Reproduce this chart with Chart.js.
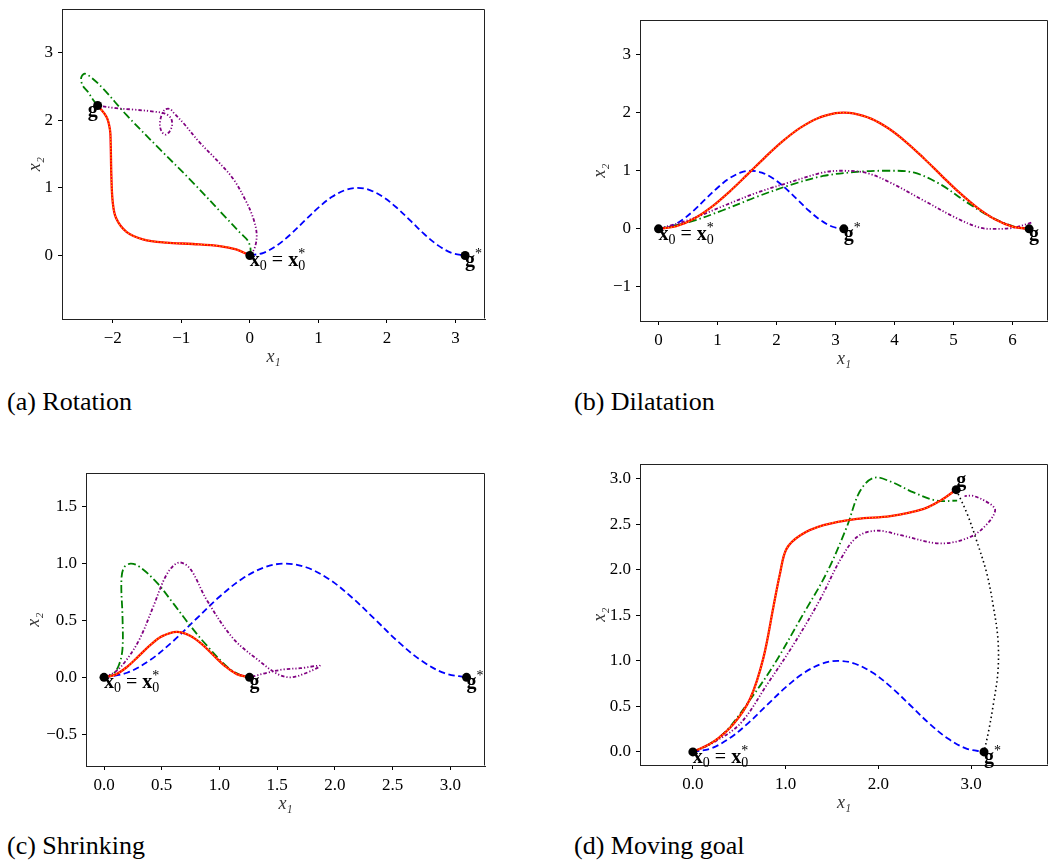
<!DOCTYPE html>
<html><head><meta charset="utf-8">
<script src="https://cdn.jsdelivr.net/npm/chart.js@4.4.1/dist/chart.umd.min.js"></script>
<style>
html,body{margin:0;padding:0;background:#fff;width:1048px;height:865px;overflow:hidden;position:relative;}
canvas{position:absolute;}
.cap{position:absolute;font-family:"Liberation Serif","Times New Roman",serif;font-size:26px;line-height:26px;color:#000;white-space:nowrap;}
</style></head><body>
<canvas id="ca"></canvas><canvas id="cb"></canvas><canvas id="cc"></canvas><canvas id="cd"></canvas>
<div class="cap" style="left:7px;top:389px">(a) Rotation</div>
<div class="cap" style="left:574px;top:389px">(b) Dilatation</div>
<div class="cap" style="left:7px;top:833px">(c) Shrinking</div>
<div class="cap" style="left:574px;top:833px">(d) Moving goal</div>
<script>
// ---------- data ----------
const demoX = [0, 0.2, 0.4, 0.6, 0.8, 1.0, 1.2, 1.4, 1.57, 1.75, 1.95, 2.15, 2.35, 2.55, 2.75, 2.95, 3.14];
const demoY = [0, 0.04, 0.152, 0.319, 0.515, 0.708, 0.869, 0.971, 1.0, 0.968, 0.863, 0.70, 0.507, 0.311, 0.146, 0.036, 0];
const markLabels = ['x0', 'g', 'g*'];

// (a) Rotation
const rotRedX = [0, -0.2, -0.44, -0.83, -1.22, -1.56, -1.80, -1.95, -2.00, -2.02, -2.03, -2.04, -2.09, -2.22];
const rotRedY = [0, 0.09, 0.14, 0.17, 0.19, 0.24, 0.35, 0.55, 0.79, 1.18, 1.66, 1.86, 2.05, 2.22];
const rotGreenX = [0, 0.01, -0.03, -0.145, -0.34, -0.83, -1.31, -1.80, -2.14, -2.32, -2.41, -2.46, -2.44, -2.36, -2.29, -2.22];
const rotGreenY = [0, 0.10, 0.22, 0.34, 0.55, 1.08, 1.57, 2.08, 2.47, 2.64, 2.69, 2.63, 2.52, 2.42, 2.31, 2.22];
const rotPurpleX = [0, 0.07, 0.10, 0.05, -0.05, -0.24, -0.49, -0.73, -0.97, -1.10, -1.17, -1.25, -1.31, -1.29, -1.22, -1.14, -1.15, -1.24, -1.40, -1.70, -1.95, -2.22];
const rotPurpleY = [0, 0.11, 0.31, 0.55, 0.79, 1.13, 1.42, 1.67, 1.96, 2.10, 2.17, 2.15, 1.98, 1.84, 1.79, 1.90, 2.03, 2.10, 2.13, 2.16, 2.18, 2.22];
const rotMarkX = [0, -2.22, 3.14];
const rotMarkY = [0, 2.22, 0];
const rotXTicks = [-2, -1, 0, 1, 2, 3];
const rotYTicks = [0, 1, 2, 3];

// (b) Dilatation
const dilRedX = [0, 0.3, 0.6, 0.9, 1.2, 1.5, 1.8, 2.1, 2.4, 2.7, 3.0, 3.14, 3.3, 3.6, 3.9, 4.2, 4.5, 4.8, 5.1, 5.4, 5.7, 6.0, 6.28];
const dilRedY = [0, 0.045, 0.175, 0.378, 0.638, 0.929, 1.227, 1.505, 1.737, 1.904, 1.990, 2.0, 1.987, 1.897, 1.726, 1.490, 1.211, 0.913, 0.622, 0.365, 0.165, 0.040, 0];
const dilGreenX = [0, 0.53, 1.09, 1.66, 2.22, 2.79, 3.36, 3.87, 4.32, 4.77, 5.22, 5.62, 6.02, 6.28];
const dilGreenY = [0, 0.12, 0.32, 0.55, 0.75, 0.91, 0.98, 1.0, 0.97, 0.77, 0.46, 0.21, 0.04, 0];
const dilPurpleX = [0, 0.53, 1.09, 1.66, 2.22, 2.79, 3.13, 3.53, 3.92, 4.49, 5.06, 5.45, 5.73, 6.02, 6.33];
const dilPurpleY = [0, 0.16, 0.39, 0.62, 0.80, 0.97, 1.0, 0.96, 0.80, 0.49, 0.18, 0.02, 0.0, 0.02, 0.11];
const dilMarkX = [0, 6.28, 3.14];
const dilMarkY = [0, 0, 0];
const dilXTicks = [0, 1, 2, 3, 4, 5, 6];
const dilYTicks = [-1, 0, 1, 2, 3];

// (c) Shrinking
const shrRedX = [0, 0.1, 0.2, 0.3, 0.4, 0.5, 0.63, 0.75, 0.85, 0.95, 1.05, 1.15, 1.257];
const shrRedY = [0, 0.024, 0.092, 0.186, 0.283, 0.36, 0.4, 0.364, 0.29, 0.192, 0.097, 0.028, 0];
const shrGreenX = [0, 0.08, 0.13, 0.16, 0.16, 0.15, 0.17, 0.23, 0.31, 0.46, 0.60, 0.75, 0.89, 1.07, 1.18, 1.26];
const shrGreenY = [0, 0.03, 0.11, 0.25, 0.54, 0.83, 0.96, 1.0, 0.97, 0.83, 0.65, 0.45, 0.28, 0.09, 0.02, 0];
const shrPurpleX = [0, 0.1, 0.20, 0.31, 0.43, 0.52, 0.59, 0.66, 0.75, 0.89, 1.12, 1.35, 1.50, 1.61, 1.73, 1.87, 1.70, 1.56, 1.41, 1.30, 1.26];
const shrPurpleY = [0, 0.05, 0.16, 0.34, 0.63, 0.86, 0.97, 1.01, 0.95, 0.68, 0.34, 0.14, 0.03, 0.0, 0.03, 0.10, 0.08, 0.07, 0.04, 0.01, 0];
const shrMarkX = [0, 1.26, 3.14];
const shrMarkY = [0, 0, 0];
const shrXTicks = [0, 0.5, 1.0, 1.5, 2.0, 2.5, 3.0];
const shrYTicks = [-0.5, 0, 0.5, 1.0, 1.5];

// (d) Moving goal
const movRedX = [0, 0.22, 0.44, 0.62, 0.76, 0.87, 0.94, 1.01, 1.16, 1.41, 1.77, 2.13, 2.49, 2.67, 2.84];
const movRedY = [0, 0.11, 0.31, 0.59, 1.03, 1.60, 1.96, 2.23, 2.38, 2.49, 2.56, 2.59, 2.67, 2.76, 2.88];
const movGreenX = [0, 0.17, 0.36, 0.58, 0.87, 1.16, 1.44, 1.66, 1.80, 1.95, 2.13, 2.38, 2.63, 2.85];
const movGreenY = [0, 0.08, 0.23, 0.52, 0.95, 1.46, 1.96, 2.47, 2.86, 3.01, 2.97, 2.85, 2.76, 2.76];
const movPurpleX = [0, 0.2, 0.51, 0.80, 1.08, 1.37, 1.59, 1.77, 1.98, 2.24, 2.67, 2.99, 3.17, 3.26, 3.21, 3.03, 2.93];
const movPurpleY = [0, 0.09, 0.31, 0.74, 1.17, 1.67, 2.11, 2.36, 2.43, 2.38, 2.29, 2.36, 2.50, 2.65, 2.72, 2.81, 2.81];
const movGoalPathX = [2.84, 2.96, 3.06, 3.17, 3.24, 3.29, 3.29, 3.24, 3.19, 3.14];
const movGoalPathY = [2.88, 2.61, 2.32, 1.96, 1.60, 1.24, 0.88, 0.52, 0.23, 0];
const movMarkX = [0, 2.84, 3.14];
const movMarkY = [0, 2.88, 0];
const movXTicks = [0, 1, 2, 3];
const movYTicks = [0, 0.5, 1.0, 1.5, 2.0, 2.5, 3.0];

// ---------- drawing ----------
const FF = '"Liberation Serif", "Times New Roman", serif';
const W = 75, H = 60, PT = 10, PR = 10;

function pts(xs, ys) { return xs.map((x, i) => ({x: x, y: ys[i]})); }
function fmt(d) { return v => (v < 0 ? '\u2212' : '') + Math.abs(v).toFixed(d); }
function line(xs, ys, color, width, dash, order) {
  return {data: pts(xs, ys), showLine: true, borderColor: color, backgroundColor: color,
    borderWidth: width, borderDash: dash, pointRadius: 0, pointHoverRadius: 0, tension: 0.35, order: order, fill: false};
}
function redOrange(xs, ys) {
  return [line(xs, ys, '#ff0000', 2.3, [], 2), line(xs, ys, '#ffa500', 1.3, [1.3, 1.8], 1)];
}
function marks(xs, ys) {
  return {data: pts(xs, ys), showLine: false, pointRadius: 4.5, pointHoverRadius: 4.5,
    pointBackgroundColor: '#000', pointBorderColor: '#000', pointBorderWidth: 0, order: 0};
}
function common(xs, ys, red, green, purple) {
  return [marks(xs, ys)].concat(redOrange(red[0], red[1]), [
    line(purple[0], purple[1], '#800080', 1.8, [3.5, 2, 1.2, 2, 1.2, 2], 3),
    line(green[0], green[1], '#008000', 1.8, [8, 3, 1.5, 3], 4),
    line(demoX, demoY, '#0000ff', 1.8, [6.5, 3.5], 5)
  ]);
}

function runsFor(t) {
  const B = 'bold 20px ' + FF, R = '20px ' + FF, S = '14px ' + FF;
  if (t === 'x0') return [
    {s: 'x', f: B, dy: 0}, {s: '0', f: S, dy: 4}, {s: ' = ', f: R, dy: 0},
    {s: 'x', f: B, dy: 0}, {s: '0', f: S, dy: 4}, {s: '*', f: S, dy: -8, stack: true}];
  if (t === 'g*') return [{s: 'g', f: B, dy: 0}, {s: '*', f: S, dy: -8}];
  return [{s: t, f: B, dy: 0}];
}
function drawMath(ctx, t, px, py, ha, va) {
  const runs = runsFor(t);
  let x = 0, prevStart = 0, total = 0;
  runs.forEach(r => {
    ctx.font = r.f;
    const w = ctx.measureText(r.s).width;
    if (r.stack) { r.x = prevStart; } else { r.x = x; prevStart = x; x += w; }
    total = Math.max(total, r.x + w);
  });
  const x0 = ha === 'right' ? px - total : px;
  const base = va === 'top' ? py + 11 : py - 4;
  ctx.fillStyle = '#000';
  ctx.textBaseline = 'alphabetic';
  ctx.textAlign = 'left';
  runs.forEach(r => { ctx.font = r.f; ctx.fillText(r.s, x0 + r.x, base + r.dy); });
}

const framePlugin = {
  id: 'frame',
  afterDatasetsDraw(chart) {
    const {ctx, chartArea: a} = chart;
    const o = chart.options.plugins.frame;
    ctx.save();
    ctx.strokeStyle = '#222'; ctx.lineWidth = 1;
    const l = Math.round(a.left) + 0.5, r = Math.round(a.right) - 0.5, t = Math.round(a.top) + 0.5, b = Math.round(a.bottom) - 0.5;
    ctx.beginPath(); ctx.moveTo(l, t); ctx.lineTo(r, t); ctx.lineTo(r, b); ctx.stroke();
    const xs = chart.scales.x, ys = chart.scales.y;
    o.xs.forEach((v, i) => {
      drawMath(ctx, o.labels[i], xs.getPixelForValue(v), ys.getPixelForValue(o.ys[i]), o.place[i][0], o.place[i][1]);
    });
    ctx.restore();
  }
};

function axis(min, max, ticks, dec, isX, gap) {
  return {
    type: 'linear', position: isX ? 'bottom' : 'left', min: min, max: max, bounds: 'data',
    afterBuildTicks: s => { s.ticks = ticks.map(v => ({value: v})); },
    afterFit: s => { if (isX) s.height = H; else s.width = W; },
    ticks: {callback: fmt(dec), font: {family: FF, size: 17}, color: '#000', padding: 5,
      autoSkip: false, maxRotation: 0, minRotation: 0},
    grid: {display: true, drawOnChartArea: false, drawTicks: true, tickLength: 4, color: '#000', lineWidth: 1},
    border: {display: true, color: '#222', width: 1},
    title: {display: true, text: isX ? 'x\u2081' : 'x\u2082', color: '#333',
      font: {family: FF, size: 18, style: 'italic'},
      padding: isX ? {top: 0, bottom: H - 38 - 10.8} : {top: W - gap - 10.8, bottom: 0}}
  };
}

function panel(id, box, xr, yr, xt, yt, dec, yGap, datasets, mx, my, place) {
  const cv = document.getElementById(id);
  const cw = box.r - box.l + W + PR, ch = box.b - box.t + PT + H;
  cv.width = cw; cv.height = ch;
  cv.style.left = (box.l - W) + 'px'; cv.style.top = (box.t - PT) + 'px';
  cv.style.width = cw + 'px'; cv.style.height = ch + 'px';
  new Chart(cv, {
    type: 'scatter',
    data: {datasets: datasets},
    options: {
      responsive: false, animation: false, devicePixelRatio: 1,
      layout: {padding: {left: 0, top: PT, right: PR, bottom: 0}},
      plugins: {legend: {display: false}, tooltip: {enabled: false},
        frame: {xs: mx, ys: my, labels: markLabels, place: place}},
      scales: {x: axis(xr[0], xr[1], xt, dec, true, 0), y: axis(yr[0], yr[1], yt, dec, false, yGap)}
    },
    plugins: [framePlugin]
  });
}

panel('ca', {l: 62, r: 485, t: 4, b: 319}, [-2.74, 3.43], [-0.94, 3.645], rotXTicks, rotYTicks, 0, 27,
  common(rotMarkX, rotMarkY, [rotRedX, rotRedY], [rotGreenX, rotGreenY], [rotPurpleX, rotPurpleY]),
  rotMarkX, rotMarkY, [['left', 'top'], ['right', 'top'], ['left', 'top']]);

panel('cb', {l: 640, r: 1048, t: 15, b: 321}, [-0.314, 6.6], [-1.585, 3.59], dilXTicks, dilYTicks, 0, 40,
  common(dilMarkX, dilMarkY, [dilRedX, dilRedY], [dilGreenX, dilGreenY], [dilPurpleX, dilPurpleY]),
  dilMarkX, dilMarkY, [['left', 'top'], ['left', 'top'], ['left', 'top']]);

panel('cc', {l: 86, r: 485, t: 468, b: 766}, [-0.156, 3.30], [-0.78, 1.795], shrXTicks, shrYTicks, 1, 52,
  common(shrMarkX, shrMarkY, [shrRedX, shrRedY], [shrGreenX, shrGreenY], [shrPurpleX, shrPurpleY]),
  shrMarkX, shrMarkY, [['left', 'top'], ['left', 'top'], ['left', 'top']]);

panel('cd', {l: 640, r: 1048, t: 459, b: 765}, [-0.57, 3.83], [-0.144, 3.16], movXTicks, movYTicks, 1, 40,
  common(movMarkX, movMarkY, [movRedX, movRedY], [movGreenX, movGreenY], [movPurpleX, movPurpleY])
    .concat([line(movGoalPathX, movGoalPathY, '#000', 1.6, [1.5, 3], 3)]),
  movMarkX, movMarkY, [['left', 'top'], ['left', 'bottom'], ['left', 'top']]);
</script>
</body></html>
